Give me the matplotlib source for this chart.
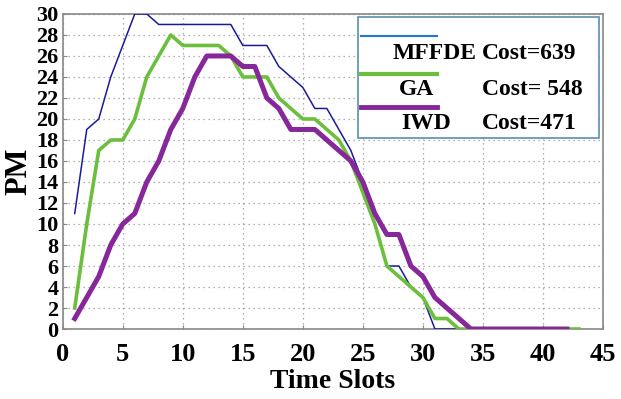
import matplotlib
matplotlib.use("Agg")
import matplotlib.pyplot as plt
from matplotlib.lines import Line2D

# values
slots_mffde = list(range(1, 43))
pm_mffde = [11, 19, 20, 24, 27, 30, 30, 29, 29, 29, 29, 29, 29, 29, 27, 27, 27,
            25, 24, 23, 21, 21, 19, 17, 14, 10, 6, 6, 4, 3, 0, 0, 0, 0, 0, 0,
            0, 0, 0, 0, 0, 0]
slots_ga = list(range(1, 44))
pm_ga = [2, 10, 17, 18, 18, 20, 24, 26, 28, 27, 27, 27, 27, 26, 24, 24, 24,
         22, 21, 20, 20, 19, 18, 16, 13, 10, 6, 5, 4, 3, 1, 1, 0, 0, 0, 0,
         0, 0, 0, 0, 0, 0, 0]
slots_iwd = list(range(1, 43))
pm_iwd = [1, 3, 5, 8, 10, 11, 14, 16, 19, 21, 24, 26, 26, 26, 25, 25, 22,
          21, 19, 19, 19, 18, 17, 16, 14, 11, 9, 9, 6, 5, 3, 2, 1, 0, 0, 0,
          0, 0, 0, 0, 0, 0]

labels = ["MFFDE", "GA", "IWD"]
costs = ["Cost=639", "Cost= 548", "Cost=471"]

plt.rcParams["font.family"] = ["Liberation Serif", "DejaVu Serif"]
plt.rcParams["font.weight"] = "bold"

fig = plt.figure(figsize=(6.21, 3.99), dpi=100)
ax = fig.add_axes([0.101, 0.1754, 0.870, 0.7896])

ax.plot(slots_mffde, pm_mffde, color="#1a1a9c", lw=1.1, zorder=3)
ax.plot(slots_ga, pm_ga, color="#6cbf3c", lw=2.6, zorder=4)
ax.plot(slots_iwd, pm_iwd, color="#86279a", lw=3.6, zorder=5)

ax.set_xlim(0, 45)
ax.set_ylim(0, 30)
ax.set_xticks(range(0, 46, 5))
ax.set_yticks(range(0, 31, 2))
ax.grid(True, linestyle=(0, (1, 3)), color="#999999", lw=0.9)
ax.tick_params(direction="in", length=3, color="#888888")
ax.tick_params(axis="x", labelsize=19, pad=10)
ax.tick_params(axis="y", labelsize=16, pad=3)
for lab in ax.get_xticklabels() + ax.get_yticklabels():
    lab.set_fontweight("bold")
for sp in ax.spines.values():
    sp.set_color("#888888")
    sp.set_linewidth(1.2)

ax.set_xlabel("Time Slots", fontsize=20, fontweight="bold", labelpad=2)
ax.set_ylabel("PM", fontsize=22, fontweight="bold", labelpad=2)

# hand-made legend box (handles sit above the labels)
ax.add_patch(plt.Rectangle((0.547, 0.605), 0.446, 0.385, transform=ax.transAxes,
                           facecolor="white", edgecolor="#5a8fb0", lw=1.2, zorder=6))
legend_colors = ["#1f78d2", "#6cbf3c", "#86279a"]
legend_widths = [1.5, 3.0, 3.5]
line_y = [0.931, 0.810, 0.704]
text_y = [0.873, 0.761, 0.651]
name_x = [0.689, 0.654, 0.673]
for i in range(3):
    ax.add_line(Line2D([0.553, 0.693], [line_y[i]] * 2, transform=ax.transAxes,
                       color=legend_colors[i], lw=legend_widths[i], zorder=7))
    ax.text(name_x[i], text_y[i], labels[i], transform=ax.transAxes, ha="center",
            va="center", fontsize=17, fontweight="bold", zorder=7)
    ax.text(0.776, text_y[i], costs[i], transform=ax.transAxes, ha="left",
            va="center", fontsize=17, fontweight="bold", zorder=7)

fig.savefig("out.png", dpi=100)
